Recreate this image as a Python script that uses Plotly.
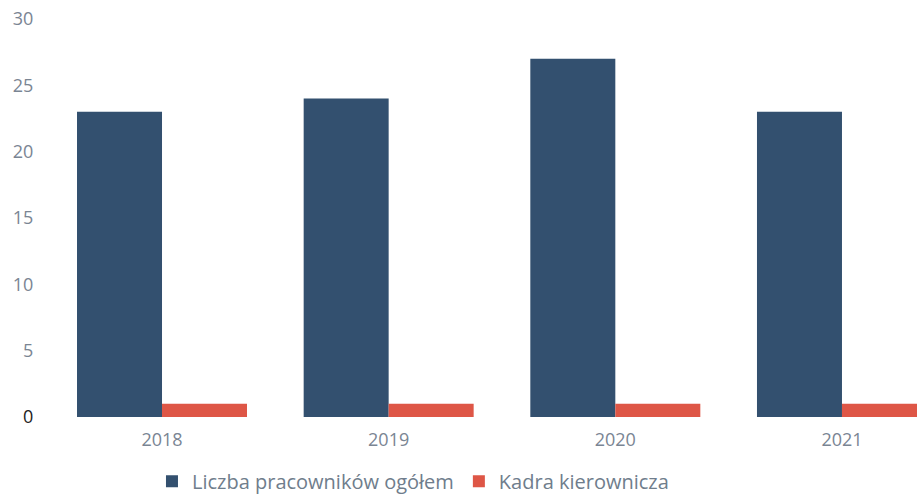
import plotly.graph_objects as go

# data
years = ["2018", "2019", "2020", "2021"]
total_staff = [23, 24, 27, 23]
management = [1, 1, 1, 1]

series_names = ["Liczba pracowników ogółem", "Kadra kierownicza"]
y_ticks = [0, 5, 10, 15, 20, 25, 30]
blue = "#33506f"
red = "#de5646"

fig = go.Figure()
fig.add_trace(go.Bar(x=years, y=total_staff, name=series_names[0],
                     marker=dict(color=blue, line=dict(width=0))))
fig.add_trace(go.Bar(x=years, y=management, name=series_names[1],
                     marker=dict(color=red, line=dict(width=0))))

# the zero label is drawn darker than the others
tick_text = ['<span style="color:#222">0</span>' if v == 0 else str(v) for v in y_ticks]

fig.update_layout(
    width=917, height=495,
    margin=dict(l=48, r=0, t=19, b=78, autoexpand=False),
    paper_bgcolor="white", plot_bgcolor="white",
    font=dict(family="Open Sans", size=18, color="#7a8593"),
    barmode="group", bargap=0.25, bargroupgap=0,
    showlegend=True,
    legend=dict(orientation="h", x=0.42, xanchor="center",
                yref="container", y=0.028, yanchor="middle",
                font=dict(size=20, color="#6f7d8c"), itemwidth=30,
                traceorder="normal"),
    xaxis=dict(range=[-0.503, 3.331], showgrid=False, showline=False, automargin=False,
               ticks="outside", tickcolor="white", ticklen=6, zeroline=False),
    yaxis=dict(range=[0, 30], tickvals=y_ticks, ticktext=tick_text, showgrid=False,
               showline=False, zeroline=False, automargin=False,
               ticks="outside", tickcolor="white", ticklen=10),
)

# drop the default page margin so the figure sits at the window's corner
fig.write_html("out.html", config={"displayModeBar": False},
               post_script="document.body.style.margin='0';")
